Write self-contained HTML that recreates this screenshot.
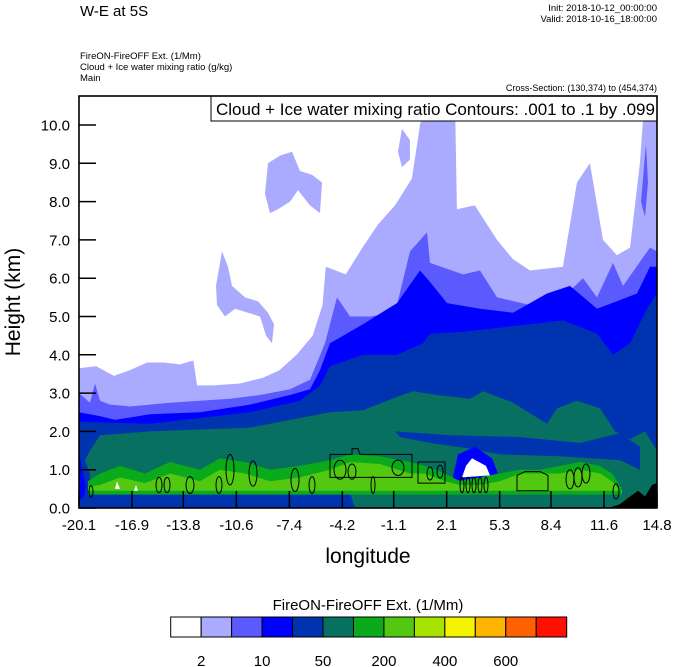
<!DOCTYPE html>
<html><head><meta charset="utf-8"><style>
body{margin:0;background:#fff;}
svg{display:block;font-family:"Liberation Sans",sans-serif;}
</style></head><body>
<svg id="chart" width="674" height="667" viewBox="0 0 674 667">
<defs><clipPath id="plotclip"><rect x="79" y="96" width="578" height="412"/></clipPath></defs>
<text x="80" y="16" font-size="15">W-E at 5S</text>
<text x="657" y="11" font-size="9.5" text-anchor="end">Init: 2018-10-12_00:00:00</text>
<text x="657" y="22" font-size="9.5" text-anchor="end">Valid: 2018-10-16_18:00:00</text>
<text x="80" y="59" font-size="9.5">FireON-FireOFF Ext.   (1/Mm)</text>
<text x="80" y="70" font-size="9.5">Cloud + Ice water mixing ratio   (g/kg)</text>
<text x="80" y="81" font-size="9.5">Main</text>
<text x="657" y="91" font-size="9" text-anchor="end">Cross-Section: (130,374) to (454,374)</text>
<g id="plotg" clip-path="url(#plotclip)"></g>
<rect x="211" y="96" width="446" height="25" fill="#fff" stroke="#000" stroke-width="1"/>
<text x="216" y="115" font-size="17">Cloud + Ice water mixing ratio Contours: .001 to .1 by .099</text>
<rect x="79" y="96" width="578" height="412" fill="none" stroke="#000" stroke-width="1.6"/>
<g id="axesg"></g>
<text transform="translate(20,302) rotate(-90)" font-size="21" text-anchor="middle">Height (km)</text>
<text x="368" y="563" font-size="21" text-anchor="middle">longitude</text>
<text x="368" y="610" font-size="15" text-anchor="middle">FireON-FireOFF Ext.  (1/Mm)</text>
<g id="cbarg"></g>
</svg>
<script>
var xTicks=[-20.1,-16.9,-13.8,-10.6,-7.4,-4.2,-1.1,2.1,5.3,8.4,11.6,14.8];
var yTicks=[0,1,2,3,4,5,6,7,8,9,10];
var levelColors=["#ffffff","#aaaaff","#5a5aff","#0000ff","#0033b0","#077060","#0aaa1a","#52c810","#a8e200","#f4f400","#ffb400","#ff6000","#ff1000"];
var cbarLabels=["2","10","50","200","400","600"];
var b1Lon=[-20.1,-19.07,-17.99,-17.02,-15.99,-15.03,-14.0,-13.2,-12.97,-12.0,-10.38,-8.99,-7.99,-6.96,-5.99,-5.4,-5.2,-3.99,-2.99,-2.05,-1.02,0.0,0.49,0.97,2.6,2.72,3.8,5.14,6.1,7.13,9.12,9.97,10.75,11.54,12.38,13.17,13.77,14.07,14.8];
var b1H=[3.65,3.7,3.45,3.6,3.8,3.8,3.75,3.85,3.2,3.2,3.25,3.4,3.6,4.0,4.5,5.3,6.3,6.1,6.8,7.4,7.9,8.6,10.0,10.8,10.8,7.8,7.9,7.0,6.5,6.2,6.3,8.5,9.0,7.0,6.6,6.8,9.0,10.8,10.8];
var b2Px=[79,90,95,100,110,130,150,170,200,230,260,290,310,325,337,350,370,395,410,427,430,463,480,497,530,563,583,597,613,623,650,657];
var b2H=[3.0,2.75,3.25,2.8,2.7,2.65,2.7,2.75,2.8,2.85,2.95,3.1,3.35,4.3,5.5,5.0,5.0,5.1,6.7,7.2,6.4,6.1,6.2,5.5,5.3,5.5,6.0,5.5,6.4,5.8,6.8,6.7];
var b3Px=[79,100,115,150,200,250,290,310,320,330,363,397,420,430,447,480,513,547,570,597,617,637,650,657];
var b3H=[2.5,2.4,2.3,2.45,2.5,2.7,2.95,3.1,3.6,4.3,4.8,5.35,6.2,5.9,5.35,5.2,5.1,5.6,5.8,5.2,5.4,5.6,6.3,6.3];
var b4Px=[79,150,200,250,300,320,330,363,397,423,430,463,497,530,563,597,613,630,647,657];
var b4H=[2.25,2.2,2.35,2.5,2.8,3.2,3.7,4.0,4.0,4.3,4.55,4.6,4.7,4.8,4.9,4.55,4.0,4.3,5.2,5.6];
var b5Px=[79,84,90,100,150,200,250,300,330,363,397,413,437,470,483,513,547,557,577,600,615,630,645,657];
var b5H=[0,1.2,1.5,1.9,2.0,2.05,2.1,2.35,2.5,2.55,2.9,3.05,2.95,2.85,3.05,2.75,2.2,2.6,2.8,2.6,2.0,1.8,2.0,1.5];
var greenTopPx=[88,100,120,145,170,200,220,245,270,300,330,350,380,410,425,445,460,480,500,520,540,560,580,600,612,622];
var greenTopH=[0.7,0.9,1.1,0.9,1.2,1.0,1.3,1.2,1.0,1.1,1.25,1.4,1.35,1.2,1.1,0.9,0.7,0.8,0.9,1.0,1.0,1.1,1.2,1.1,0.9,0.5];
var lgTopH=[0.55,0.6,0.8,0.65,0.9,0.7,1.0,0.9,0.7,0.8,1.0,1.2,1.15,0.9,0.9,0.7,0.6,0.6,0.7,0.9,0.9,0.9,1.0,0.9,0.7,0.4];
var terrainPx=[608,620,630,638,645,652,657];
var terrainH=[0,0.1,0.3,0.45,0.3,0.6,0.65];
var contourPx=[91,159,167,190,219,230,253,295,312,340,352,373,398,430,440,462,468,474,480,486,578,586,616,570];
var contourH=[0.43,0.6,0.6,0.6,0.6,1.0,0.9,0.73,0.6,1.0,0.95,0.6,1.05,0.9,0.95,0.6,0.6,0.6,0.6,0.6,0.8,0.9,0.43,0.75];
var contourRx=[2,3,3,4,3,4,4,4,3,6,4,2,6,3,3,2,2,2,2,2,4,4,3,4];
var contourRy=[0.15,0.2,0.2,0.22,0.22,0.4,0.33,0.3,0.22,0.25,0.2,0.22,0.2,0.17,0.17,0.2,0.2,0.2,0.2,0.2,0.25,0.25,0.2,0.25];

var SVGNS="http://www.w3.org/2000/svg";
var PL=79,PR=657,PB=508;
function xs(lon){return PL+(lon+20.1)/34.9*(PR-PL);}
function ys(h){return PB-h*38.3;}
function pxToLon(p){return -20.1+(p-PL)/(PR-PL)*34.9;}
function mk(tag,attrs){var e=document.createElementNS(SVGNS,tag);for(var k in attrs){e.setAttribute(k,String(attrs[k]));}return e;}
function areaPath(lons,hs,base){var d='M'+xs(lons[0]).toFixed(1)+','+ys(base).toFixed(1);for(var i=0;i<lons.length;i++){d+='L'+xs(lons[i]).toFixed(1)+','+ys(Math.min(hs[i],11)).toFixed(1);}d+='L'+xs(lons[lons.length-1]).toFixed(1)+','+ys(base).toFixed(1)+'Z';return d;}
function bandPath(lons,top,bot){var d='';for(var i=0;i<lons.length;i++){d+=(i?'L':'M')+xs(lons[i]).toFixed(1)+','+ys(top[i]).toFixed(1);}for(var j=lons.length-1;j>=0;j--){d+='L'+xs(lons[j]).toFixed(1)+','+ys(bot[j]).toFixed(1);}return d+'Z';}
function polyPx(pts){return 'M'+pts.map(function(p){return p[0]+','+ys(p[1]).toFixed(1);}).join('L')+'Z';}

var plotG=document.getElementById('plotg');
function addPath(d,fill,nm){
  var q=mk('path',{d:d,fill:fill});
  
  
  plotG.appendChild(q);
}
var layerDefs=[[b1Lon,b1H,1,'level-2-region'],[b2Px.map(pxToLon),b2H,2,'level-5-region'],[b3Px.map(pxToLon),b3H,3,'level-10-region'],[b4Px.map(pxToLon),b4H,4,'level-50-region'],[b5Px.map(pxToLon),b5H,5,'level-100-region']];
for(var li=0;li<layerDefs.length;li++){
  var ld=layerDefs[li];
  addPath(areaPath(ld[0],ld[1],0),levelColors[ld[2]],ld[3]);
  if(li===0){
    var patches=[[[265,8.2],[268,9.0],[280,9.2],[292,9.3],[300,8.8],[312,8.7],[322,8.5],[320,7.7],[310,7.9],[298,8.3],[290,8.0],[278,7.8],[270,7.7]],
      [[216,5.8],[222,6.7],[228,6.3],[232,5.8],[245,5.5],[258,5.4],[268,5.1],[274,4.8],[272,4.3],[266,4.5],[260,5.0],[248,5.1],[235,5.2],[225,5.0],[217,5.3]],
      [[398,9.3],[402,9.9],[410,9.6],[410,9.1],[402,8.9]],
      [[219,0.8],[225,1.0],[227,0.85]]];
    for(var pi=0;pi<patches.length;pi++){addPath(polyPx(patches[pi]),levelColors[1],'level-2-patch');}
    var holes=[[[412,10.8],[430,10.8],[440,10.1],[452,10.8],[430,10.2],[416,10.3]],[[580,10.8],[600,10.8],[597,9.8],[590,10.4]]];
    for(var hi=0;hi<holes.length;hi++){addPath(polyPx(holes[hi]),'#ffffff','clear-gap');}
    addPath(polyPx([[641,8.0],[646,9.5],[648,8.5],[645,7.6]]),levelColors[2],'level-5-patch');
  }
}
var extras=[[[[395,2.0],[450,1.9],[520,1.85],[580,1.7],[620,1.95],[640,1.6],[640,1.0],[620,1.25],[560,1.35],[500,1.4],[470,1.55],[430,1.7],[400,1.85]],'#0033b0','inner-level-50-patch'],
 [[[79,1.9],[84,1.3],[90,0.9],[90,0],[79,0]],'#0033b0','left-edge-patch'],
 [[[79,0.35],[200,0.4],[300,0.45],[350,0.4],[355,0],[79,0]],'#0033b0','surface-level-50-band'],
 [[[79,1.5],[82,1.0],[86,0.6],[84,0.3],[79,0.2]],'#0000ff','left-edge-blue'],
 [[[452,0.7],[458,1.4],[475,1.6],[492,1.3],[498,0.9],[480,0.8]],'#0000ff','blue-spot']];
for(var ei=0;ei<extras.length;ei++){addPath(polyPx(extras[ei][0]),extras[ei][1],extras[ei][2]);}
var gLon=greenTopPx.map(pxToLon);
addPath(bandPath(gLon,greenTopH,greenTopH.map(function(){return 0.35;})),levelColors[6],'level-200-band');
addPath(bandPath(gLon,lgTopH,lgTopH.map(function(){return 0.45;})),levelColors[7],'level-300-band');
var wspots=[[[462,0.8],[466,1.1],[472,1.3],[486,1.1],[490,0.85]],[[115,0.5],[117,0.7],[120,0.5]],[[134,0.45],[136,0.6],[138,0.45]]];
for(var wi=0;wi<wspots.length;wi++){addPath(polyPx(wspots[wi]),'#ffffff','clear-spot');}
addPath(areaPath(terrainPx.map(pxToLon),terrainH,0),'#000000','terrain');
for(var ci=0;ci<contourPx.length;ci++){
  var el=mk('ellipse',{cx:contourPx[ci],cy:ys(contourH[ci]),rx:contourRx[ci],ry:contourRy[ci]*38.3,fill:'none',stroke:'#000','stroke-width':1});
  
  
  plotG.appendChild(el);
}
var cboxes=[[[330,0.8],[330,1.4],[352,1.4],[352,1.55],[358,1.55],[360,1.4],[412,1.4],[412,0.8]],[[418,0.65],[418,1.2],[445,1.2],[445,0.65]],[[517,0.45],[517,0.85],[525,0.95],[540,0.95],[548,0.85],[548,0.45]]];
for(var bi=0;bi<cboxes.length;bi++){
  var cq=mk('path',{d:polyPx(cboxes[bi]),fill:'none',stroke:'#000','stroke-width':1});
  
  
  plotG.appendChild(cq);
}
var axesG=document.getElementById('axesg');
for(var yi=0;yi<yTicks.length;yi++){
  var yy=ys(yTicks[yi]);
  var yl=mk('line',{x1:PL,x2:PL+17,y1:yy,y2:yy,stroke:'#000','stroke-width':1.5});
  
  
  axesG.appendChild(yl);
  var yt=mk('text',{x:70,y:yy+5.5,'font-size':15,'text-anchor':'end'});
  yt.textContent=yTicks[yi].toFixed(1);
  
  
  axesG.appendChild(yt);
}
for(var xi=0;xi<xTicks.length;xi++){
  var xx=xs(xTicks[xi]);
  var xl=mk('line',{x1:xx,x2:xx,y1:PB,y2:PB-17,stroke:'#000','stroke-width':1.5});
  
  
  axesG.appendChild(xl);
  var xt=mk('text',{x:xx,y:530,'font-size':15,'text-anchor':'middle'});
  xt.textContent=xTicks[xi].toFixed(1);
  
  
  axesG.appendChild(xt);
}
var cbarG=document.getElementById('cbarg');
var cwid=(566.7-170.7)/levelColors.length;
for(var ki=0;ki<levelColors.length;ki++){
  var sw=mk('rect',{x:170.7+ki*cwid,y:617,width:cwid,height:20,fill:levelColors[ki],stroke:'#000','stroke-width':1});
  
  
  cbarG.appendChild(sw);
}
for(var si=0;si<cbarLabels.length;si++){
  var st=mk('text',{x:170.7+cwid*(1+2*si),y:666,'font-size':15,'text-anchor':'middle'});
  st.textContent=cbarLabels[si];
  
  
  cbarG.appendChild(st);
}
</script>
</body></html>
